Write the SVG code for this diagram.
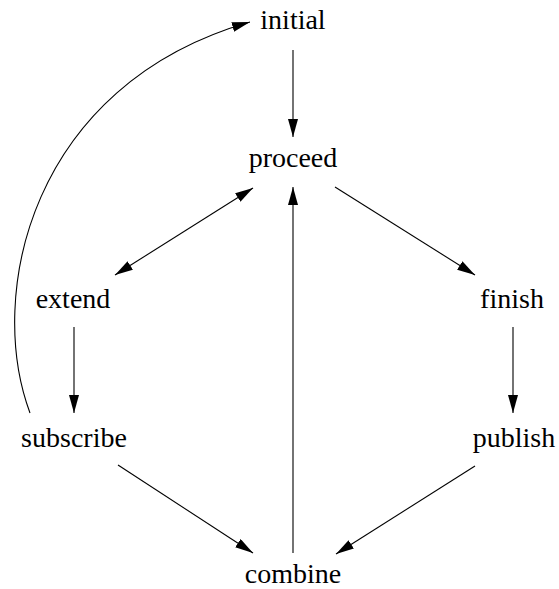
<svg xmlns="http://www.w3.org/2000/svg" width="559" height="589" viewBox="0 0 559 589">
  <style>
    .label { font-family: "Liberation Serif", "Times New Roman", serif; font-size: 28px; fill: #000; text-anchor: middle; }
    .edge { stroke: #000; stroke-width: 1.1; fill: none; marker-end: url(#arrow); }
  </style>
  <defs>
    <marker id="arrow" markerUnits="userSpaceOnUse" markerWidth="20" markerHeight="12" refX="18" refY="5" orient="auto-start-reverse">
      <path d="M0,0 L18,5 L0,10 z" fill="#000"/>
    </marker>
  </defs>
  <rect width="559" height="589" fill="#fff"/>

  <g id="edges">
    <path class="edge" d="M293,50 L293,137"/>
    <path class="edge" style="marker-start:url(#arrow)" d="M115,275 L253,188"/>
    <path class="edge" d="M293,553 L293,187"/>
    <path class="edge" d="M335,187 L475,275"/>
    <path class="edge" d="M74,327 L74,413"/>
    <path class="edge" d="M513,327 L513,413"/>
    <path class="edge" d="M118,465 L253,553"/>
    <path class="edge" d="M475,466 L336,554"/>
    <path class="edge" d="M30,413 C-14,295 30,85 250,22"/>
  </g>

  <g id="initial"><text class="label" x="293" y="29">initial</text></g>
  <g id="proceed"><text class="label" x="293" y="167">proceed</text></g>
  <g id="extend"><text class="label" x="73" y="308">extend</text></g>
  <g id="finish"><text class="label" x="512" y="308">finish</text></g>
  <g id="subscribe"><text class="label" x="74" y="447">subscribe</text></g>
  <g id="publish"><text class="label" x="514" y="447">publish</text></g>
  <g id="combine"><text class="label" x="293" y="583">combine</text></g>
</svg>
